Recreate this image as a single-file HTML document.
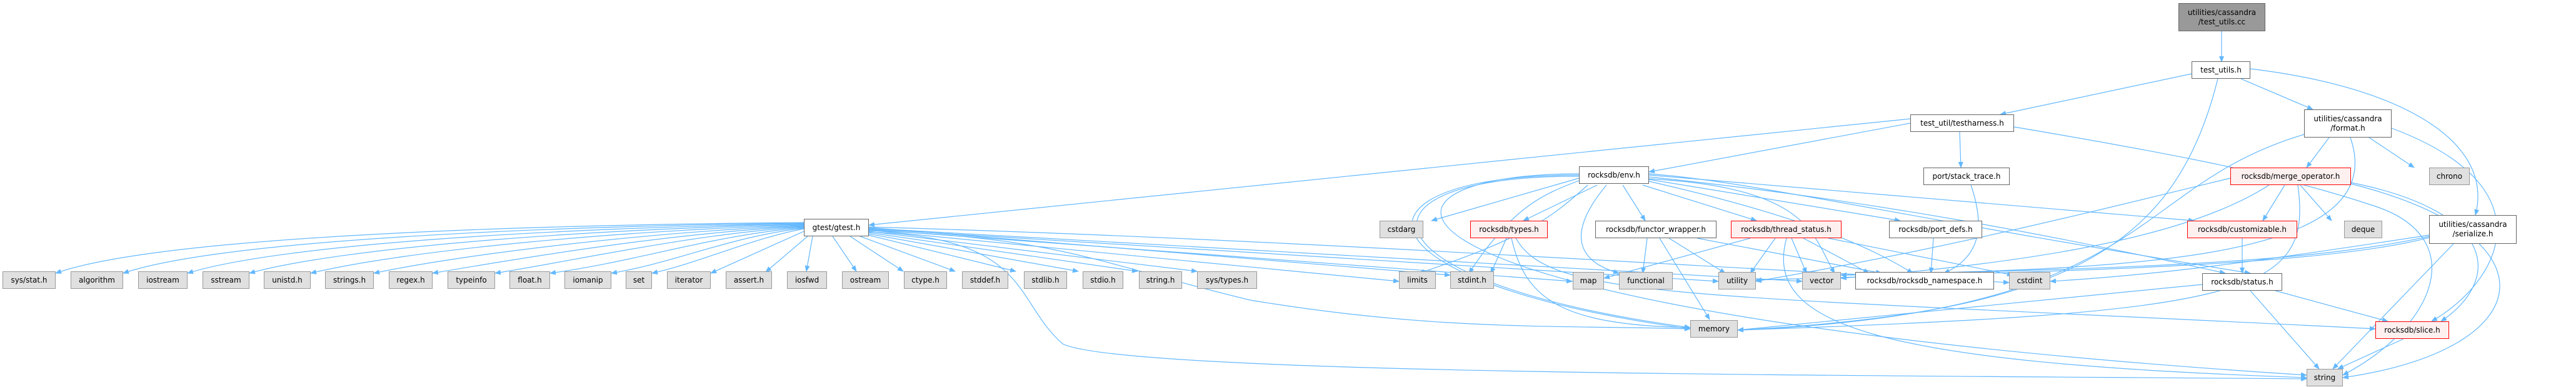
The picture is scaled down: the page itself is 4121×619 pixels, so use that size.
<!DOCTYPE html>
<html><head><meta charset="utf-8"><style>
body{margin:0;width:4121px;height:619px;background:#fff;position:relative;overflow:hidden;font-family:"DejaVu Sans","Liberation Sans",sans-serif;}
.n{position:absolute;box-sizing:border-box;border:1px solid #666;background:#fff;font-size:12px;color:#000;display:flex;align-items:center;justify-content:center;text-align:center;line-height:15px;white-space:nowrap;}
.g{background:#e0e0e0;border-color:#999;}
.r{background:#fff0f0;border-color:#f00;}
.root{background:#999;border-color:#666;}
svg{position:absolute;left:0;top:0;}
</style></head><body>
<svg width="4121" height="619" viewBox="0 0 4121 619">
<defs><marker id="a" markerWidth="10" markerHeight="8" refX="9" refY="4" orient="auto" markerUnits="userSpaceOnUse"><path d="M0,0 L10,4 L0,8 z" fill="#63b8ff"/></marker></defs>
<g fill="none" stroke="#63b8ff" stroke-width="1.2" marker-end="url(#a)">
<!-- top -->
<path d="M3554,50 L3554,99"/>
<path d="M3506,118 L3200,183"/>
<path d="M3585,126 L3700,175"/>
<path d="M3600,110 C3850,140 3990,230 3960,344"/>
<path d="M3548,126 C3480,400 3300,500 2780,528"/>
<!-- testharness -->
<path d="M3056,190 L1390,360"/>
<path d="M3056,197 L2638,275"/>
<path d="M3135,211 L3137,268"/>
<path d="M3222,203 C3500,250 3650,280 3800,330 C3950,380 3900,520 3748,600"/>
<!-- format -->
<path d="M3726,220 L3690,268"/>
<path d="M3790,220 L3862,268"/>
<path d="M3686,215 C3400,300 3450,500 2780,528"/>
<path d="M3760,220 C3830,420 3400,430 2945,440"/>
<path d="M3826,205 C4080,300 4000,450 3890,514"/>
<!-- merge operator -->
<path d="M3568,285 C3300,350 3100,400 2809,450"/>
<path d="M3630,296 C3500,380 3250,420 2945,445"/>
<path d="M3655,296 L3620,353"/>
<path d="M3680,296 L3730,353"/>
<path d="M3676,296 C3700,470 3600,500 2780,528"/>
<path d="M3761,292 C4000,340 4000,450 3905,514"/>
<path d="M3761,294 C4100,380 4060,560 3748,604"/>
<!-- serialize -->
<path d="M3886,376 C3600,420 3450,440 3280,450"/>
<path d="M3886,378 C3700,420 3400,430 2945,440"/>
<path d="M3886,380 C3700,430 3200,435 2809,448"/>
<path d="M3925,390 L3732,590"/>
<!-- customizable, status, slice -->
<path d="M3587,381 L3587,437"/>
<path d="M3523,455 L2780,528"/>
<path d="M3640,465 L3820,514"/>
<path d="M3600,465 L3710,590"/>
<path d="M3845,542 L3740,590"/>
<!-- stack trace, port defs -->
<path d="M3153,296 C3175,360 3170,410 3110,437"/>
<path d="M3093,381 L3089,437"/>
<!-- thread status -->
<path d="M2840,381 L2800,437"/>
<path d="M2866,381 L2890,437"/>
<path d="M2885,381 L2990,437"/>
<path d="M2925,381 L3220,440"/>
<path d="M2858,381 C2820,520 3000,580 3690,604"/>
<path d="M2800,381 L2566,445"/>
<!-- functor wrapper -->
<path d="M2635,381 L2628,437"/>
<path d="M2670,381 L2760,437"/>
<path d="M2655,381 L2735,511"/>
<path d="M2715,381 L3010,437"/>
<!-- types -->
<path d="M2410,381 L2385,437"/>
<path d="M2418,381 C2440,480 2500,520 2704,524"/>
<path d="M2425,381 C2480,480 2700,470 3800,526"/>
<!-- env -->
<path d="M2526,285 L2290,353"/>
<path d="M2555,296 L2437,353"/>
<path d="M2596,296 L2632,353"/>
<path d="M2628,296 L2810,353"/>
<path d="M2638,287 L3040,353"/>
<path d="M2638,280 L3510,353"/>
<path d="M2638,283 C3000,320 3300,380 3560,437"/>
<path d="M2540,296 C2480,350 2440,380 2270,437"/>
<path d="M2526,289 C2470,310 2420,330 2350,437"/>
<path d="M2570,296 C2500,380 2530,420 2590,437"/>
<path d="M2638,286 C2900,300 2900,380 2935,437"/>
<path d="M2526,282 C2150,280 2160,450 2704,524"/>
<path d="M2526,280 C2140,280 2150,450 2704,526"/>
<path d="M2526,278 C2130,278 2130,500 3690,600"/>
<path d="M2638,290 C2900,350 3000,400 3060,437"/>
<path d="M2638,278 C2800,290 3000,340 3600,437"/>
<!-- gtest right -->
<path d="M1300,378 L1290,434"/>
<path d="M1332,378 L1370,434"/>
<path d="M1360,378 L1445,434"/>
<path d="M1376,378 L1528,434"/>
<path d="M1389,376 L1625,434"/>
<path d="M1389,374 L1725,434"/>
<path d="M1389,372 L1820,434"/>
<path d="M1389,370 L1915,434"/>
<path d="M1389,368 L2238,450"/>
<path d="M1389,367 L2515,450"/>
<path d="M1389,366 L2749,450"/>
<path d="M1389,365 L2883,450"/>
<path d="M1389,364 L2320,440"/>
<path d="M1389,369 C1700,380 1750,420 2000,480 C2300,530 2500,520 2704,526"/>
<path d="M1389,371 C1650,380 1620,480 1700,550 C1800,600 3000,600 3690,606"/>
<path d="M1389,363 C2000,380 2600,420 3214,452"/>
<!-- gtest left fan -->
<path d="M1286,356 C800,360 250,380 89,437"/>
<path d="M1286,357 C850,362 350,385 197,437"/>
<path d="M1286,358 C900,364 450,390 300,437"/>
<path d="M1286,359 C950,366 550,395 399,437"/>
<path d="M1286,360 C1000,368 650,400 497,437"/>
<path d="M1286,361 C1050,370 750,405 598,437"/>
<path d="M1286,362 C1080,372 850,410 692,437"/>
<path d="M1286,363 C1110,374 930,415 792,437"/>
<path d="M1286,364 C1140,376 1020,418 880,437"/>
<path d="M1286,365 C1170,378 1080,420 978,437"/>
<path d="M1286,366 C1200,382 1120,420 1043,437"/>
<path d="M1286,370 L1137,437"/>
<path d="M1292,378 L1225,435"/>
</g>
</svg>
<div class="n root" style="left:3485px;top:5px;width:139px;height:45px">utilities/cassandra<br>/test_utils.cc</div>
<div class="n" style="left:3506px;top:98px;width:94px;height:28px">test_utils.h</div>
<div class="n" style="left:3056px;top:183px;width:166px;height:28px">test_util/testharness.h</div>
<div class="n" style="left:3686px;top:175px;width:140px;height:45px">utilities/cassandra<br>/format.h</div>
<div class="n" style="left:3077px;top:268px;width:138px;height:28px">port/stack_trace.h</div>
<div class="n r" style="left:3568px;top:268px;width:193px;height:28px">rocksdb/merge_operator.h</div>
<div class="n g" style="left:3886px;top:268px;width:65px;height:28px">chrono</div>
<div class="n" style="left:2526px;top:266px;width:112px;height:28px">rocksdb/env.h</div>
<div class="n" style="left:1286px;top:350px;width:104px;height:28px">gtest/gtest.h</div>
<div class="n g" style="left:2207px;top:353px;width:70px;height:28px">cstdarg</div>
<div class="n r" style="left:2352px;top:353px;width:124px;height:28px">rocksdb/types.h</div>
<div class="n" style="left:2552px;top:353px;width:194px;height:28px">rocksdb/functor_wrapper.h</div>
<div class="n r" style="left:2769px;top:353px;width:177px;height:28px">rocksdb/thread_status.h</div>
<div class="n" style="left:3022px;top:353px;width:149px;height:28px">rocksdb/port_defs.h</div>
<div class="n r" style="left:3499px;top:353px;width:176px;height:28px">rocksdb/customizable.h</div>
<div class="n g" style="left:3750px;top:353px;width:61px;height:28px">deque</div>
<div class="n" style="left:3886px;top:344px;width:140px;height:46px">utilities/cassandra<br>/serialize.h</div>
<div class="n g" style="left:4px;top:434px;width:85px;height:28px">sys/stat.h</div>
<div class="n g" style="left:113px;top:434px;width:84px;height:28px">algorithm</div>
<div class="n g" style="left:221px;top:434px;width:79px;height:28px">iostream</div>
<div class="n g" style="left:324px;top:434px;width:75px;height:28px">sstream</div>
<div class="n g" style="left:422px;top:434px;width:75px;height:28px">unistd.h</div>
<div class="n g" style="left:520px;top:434px;width:78px;height:28px">strings.h</div>
<div class="n g" style="left:622px;top:434px;width:70px;height:28px">regex.h</div>
<div class="n g" style="left:716px;top:434px;width:76px;height:28px">typeinfo</div>
<div class="n g" style="left:815px;top:434px;width:65px;height:28px">float.h</div>
<div class="n g" style="left:903px;top:434px;width:75px;height:28px">iomanip</div>
<div class="n g" style="left:1001px;top:434px;width:42px;height:28px">set</div>
<div class="n g" style="left:1067px;top:434px;width:70px;height:28px">iterator</div>
<div class="n g" style="left:1161px;top:434px;width:74px;height:28px">assert.h</div>
<div class="n g" style="left:1259px;top:434px;width:64px;height:28px">iosfwd</div>
<div class="n g" style="left:1347px;top:434px;width:75px;height:28px">ostream</div>
<div class="n g" style="left:1446px;top:434px;width:69px;height:28px">ctype.h</div>
<div class="n g" style="left:1539px;top:434px;width:74px;height:28px">stddef.h</div>
<div class="n g" style="left:1638px;top:434px;width:69px;height:28px">stdlib.h</div>
<div class="n g" style="left:1732px;top:434px;width:65px;height:28px">stdio.h</div>
<div class="n g" style="left:1822px;top:434px;width:69px;height:28px">string.h</div>
<div class="n g" style="left:1915px;top:434px;width:96px;height:28px">sys/types.h</div>
<div class="n g" style="left:2238px;top:434px;width:59px;height:28px">limits</div>
<div class="n g" style="left:2320px;top:434px;width:70px;height:28px">stdint.h</div>
<div class="n g" style="left:2516px;top:435px;width:50px;height:28px">map</div>
<div class="n g" style="left:2590px;top:435px;width:86px;height:28px">functional</div>
<div class="n g" style="left:2749px;top:435px;width:60px;height:28px">utility</div>
<div class="n g" style="left:2883px;top:435px;width:62px;height:28px">vector</div>
<div class="n" style="left:2968px;top:435px;width:222px;height:28px">rocksdb/rocksdb_namespace.h</div>
<div class="n g" style="left:3214px;top:435px;width:66px;height:28px">cstdint</div>
<div class="n" style="left:3523px;top:437px;width:128px;height:28px">rocksdb/status.h</div>
<div class="n g" style="left:2704px;top:512px;width:76px;height:28px">memory</div>
<div class="n r" style="left:3800px;top:514px;width:118px;height:28px">rocksdb/slice.h</div>
<div class="n g" style="left:3690px;top:590px;width:58px;height:28px">string</div>
</body></html>
